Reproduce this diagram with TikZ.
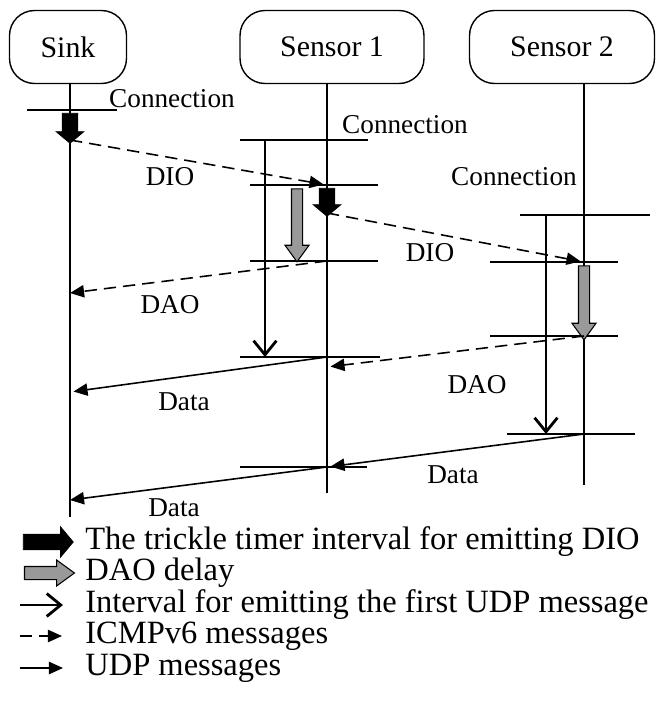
\documentclass[tikz,border=0pt]{standalone}
\usepackage{fontspec}
\setmainfont{Liberation Serif}
\usetikzlibrary{arrows.meta,calc,shapes.arrows}

\tikzset{
  actor/.style={draw, line width=0.8pt, rounded corners=0.5cm, minimum height=1.46cm, font=\fontsize{17}{20}\selectfont},
  lifeline/.style={line width=0.6pt},
  evtline/.style={line width=0.6pt},
  lbl/.style={font=\fontsize{15.5}{18}\selectfont, inner sep=1pt},
  msg/.style={line width=0.9pt, -{Triangle[length=8pt,width=7pt]}},
  icmp/.style={msg, dash pattern=on 7pt off 4pt},
  udpwait/.style={line width=1.6pt, -{Straight Barb[length=8pt,width=13pt]}},
  blk/.style={single arrow, draw, fill=black, inner xsep=0pt, inner ysep=0.15cm, single arrow head extend=0.12cm, single arrow tip angle=100},
  gry/.style={single arrow, draw, line width=0.6pt, fill=black!40, inner xsep=0pt, inner ysep=0.1cm, single arrow head extend=0.13cm, single arrow tip angle=72},
  vert/.style={rotate=-90},
  legtxt/.style={anchor=west, font=\fontsize{18.5}{20}\selectfont, inner sep=0pt}
}

\begin{document}
\begin{tikzpicture}[x=0.02cm, y=-0.02cm]
  \useasboundingbox (0,0) rectangle (656,704);

  % actors
  \node[actor, minimum width=2.34cm] (sink) at (68,47) {Sink};
  \node[actor, minimum width=3.68cm] (sen1) at (332,47) {Sensor 1};
  \node[actor, minimum width=3.70cm] (sen2) at (562,47) {Sensor 2};

  % events on the lifelines
  \coordinate (c0a) at (70,110);
  \coordinate (c0b) at (70,140);
  \coordinate (c0c) at (70,293);
  \coordinate (c0d) at (70,392);
  \coordinate (c0e) at (70,500);
  \coordinate (l0b) at (70,517);

  \coordinate (c1a) at (327,140);
  \coordinate (c1b) at (327,185);
  \coordinate (c1c) at (327,213);
  \coordinate (c1d) at (327,261);
  \coordinate (c1e) at (327,357);
  \coordinate (c1f) at (327,367);
  \coordinate (c1g) at (327,467);
  \coordinate (l1b) at (327,493);

  \coordinate (c2a) at (584,215);
  \coordinate (c2b) at (584,262);
  \coordinate (c2c) at (584,336);
  \coordinate (c2d) at (584,434);
  \coordinate (l2b) at (584,485);

  \draw[lifeline] (sink.south -| l0b) -- (l0b);
  \draw[lifeline] (sen1.south -| l1b) -- (l1b);
  \draw[lifeline] (sen2.south -| l2b) -- (l2b);

  % ticks
  \draw[evtline] (27,110) -- (117,110);
  \draw[evtline] (240,140) -- (368,140);
  \draw[evtline] (250,185) -- (378,185);
  \draw[evtline] (250,261) -- (378,261);
  \draw[evtline] (240,357) -- (380,357);
  \draw[evtline] (240,467) -- (367,467);
  \draw[evtline] (520,215) -- (650,215);
  \draw[evtline] (490,262) -- (618,262);
  \draw[evtline] (490,336) -- (618,336);
  \draw[evtline] (507,434) -- (635,434);

  % timers
  \node[blk, vert, minimum height=0.6cm] (dio0) at ($(c0a)!0.5!(c0b)$) {};
  \node[blk, vert, minimum height=0.56cm] (dio1) at ($(c1b)!0.5!(c1c)$) {};
  \coordinate (g1a) at (297,185);
  \coordinate (g1b) at (297,258);
  \node[gry, vert, minimum height=1.46cm] (dao1) at ($(g1a)!0.5!(g1b)$) {};
  \node[gry, vert, minimum height=1.48cm] (dao2) at ($(c2b)!0.5!(c2c)$) {};

  \coordinate (w1a) at (265,140);
  \coordinate (w1b) at (265,357);
  \coordinate (w2a) at (546,215);
  \coordinate (w2b) at (546,434);
  \draw[udpwait] (w1a) -- (w1b);
  \draw[udpwait] (w2a) -- (w2b);

  % messages
  \draw[icmp, shorten >=2pt] (c0b) -- (c1b);
  \draw[icmp, shorten >=2pt] (c1c) -- (c2b);
  \draw[icmp] (c1d) -- (c0c);
  \draw[icmp, shorten >=2pt] (c2c) -- (c1f);
  \draw[msg, shorten >=2pt] (c1e) -- (c0d);
  \draw[msg, shorten >=2pt] (c2d) -- (c1g);
  \draw[msg] (c1g) -- (c0e);

  % labels
  \node[lbl] (con0) at (172,99) {Connection};
  \node[lbl] (con1) at (405,125) {Connection};
  \node[lbl] (con2) at (514,177) {Connection};
  \node[lbl] (dio0l) at (170,177) {DIO};
  \node[lbl] (dio1l) at (430,253) {DIO};
  \node[lbl] (dao1l) at (170,305) {DAO};
  \node[lbl] (dao2l) at (477,385) {DAO};
  \node[lbl] (dat1l) at (184,402) {Data};
  \node[lbl] (dat2l) at (453,475) {Data};
  \node[lbl] (dat3l) at (174,508) {Data};

  % legend
  \coordinate (k1) at (20,542);  \coordinate (k1e) at (70,542);
  \coordinate (k2) at (20,573);  \coordinate (k2e) at (70,573);
  \coordinate (k3) at (20,605);  \coordinate (k3e) at (63,605);
  \coordinate (k4) at (20,636);  \coordinate (k4e) at (62,636);
  \coordinate (k5) at (20,668);  \coordinate (k5e) at (63,668);
  \node[blk, minimum height=1cm, single arrow head extend=0.15cm] (key1) at ($(k1)!0.5!(k1e)$) {};
  \node[gry, minimum height=1cm, inner ysep=0.12cm] (key2) at ($(k2)!0.5!(k2e)$) {};
  \draw[udpwait] (k3) -- (k3e);
  \draw[icmp] (k4) -- (k4e);
  \draw[msg] (k5) -- (k5e);
  \node[legtxt] (leg1) at (85,542) {The trickle timer interval for emitting DIO};
  \node[legtxt] (leg2) at (85,573) {DAO delay};
  \node[legtxt] (leg3) at (85,605) {Interval for emitting the first UDP message};
  \node[legtxt] (leg4) at (85,636) {ICMPv6 messages};
  \node[legtxt] (leg5) at (85,668) {UDP messages};
\end{tikzpicture}
\end{document}
